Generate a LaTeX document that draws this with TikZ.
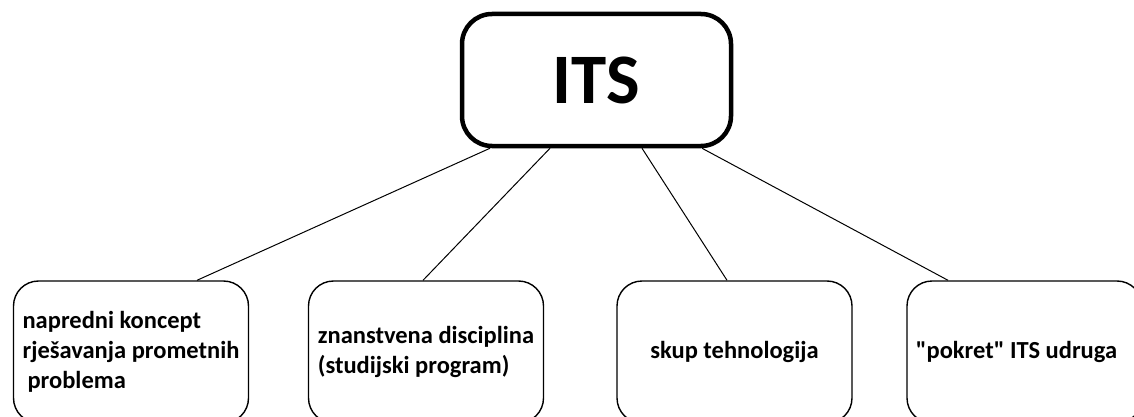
\documentclass[tikz,border=0pt]{standalone}
\usepackage{fontspec}
\setmainfont{Carlito}
\usetikzlibrary{shapes,positioning}

\begin{document}
\begin{tikzpicture}[x=1pt,y=-1pt]
		\tikzstyle{Root}	= [rectangle, draw, rounded corners=30pt, line width=4.5pt, minimum width=269pt, minimum height=132pt, inner sep=0pt, font=\fontsize{71}{84}\selectfont\bfseries]
		\tikzstyle{Leaf}	= [rectangle, draw, rounded corners=25pt, line width=1.4pt, minimum width=235pt, minimum height=142pt, inner sep=0pt, align=left, font=\fontsize{24.5}{30}\selectfont\bfseries]
		\tikzstyle{Link}	= [line width=1pt]

		\useasboundingbox (0,0) rectangle (1134,417);
		\clip (0,0) rectangle (1134,417);

		\node (its) at (596.5,80) [Root] {ITS};
		\node (koncept) at (131,352) [Leaf] {napredni koncept\\rješavanja prometnih\\\hspace{5pt}problema};
		\node (disciplina) at (426,352) [Leaf] {znanstvena disciplina\\(studijski program)};
		\node (tehnologije) at (734.5,352) [Leaf] {skup tehnologija};
		\node (udruga) at (1024.5,352) [Leaf] {\textquotedbl pokret\textquotedbl{} ITS udruga\hspace*{16pt}};

		\draw [-] ([xshift=-106.5pt]its.south) to ([xshift=66pt]koncept.north) [Link];
		\draw [-] ([xshift=-46.5pt]its.south) to ([xshift=-3pt]disciplina.north) [Link];
		\draw [-] ([xshift=45.5pt]its.south) to ([xshift=-7.5pt]tehnologije.north) [Link];
		\draw [-] ([xshift=105.5pt]its.south) to ([xshift=-76.5pt]udruga.north) [Link];
	\end{tikzpicture}
\end{document}
